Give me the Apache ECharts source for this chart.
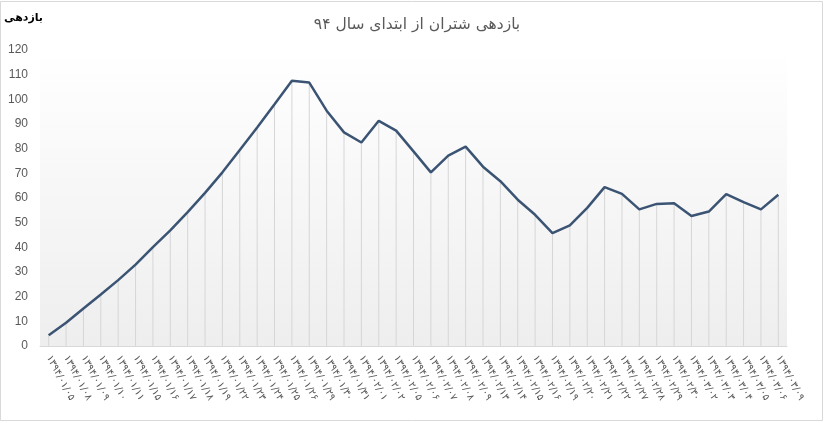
<!DOCTYPE html>
<html>
<head>
<meta charset="utf-8">
<script src="https://cdn.jsdelivr.net/npm/echarts@6/dist/echarts.min.js"></script>
<style>html,body{margin:0;padding:0;background:#fff}#c{width:824px;height:423px}</style>
</head>
<body>
<div id="c"></div>
<script>
var categories = [
  '۱۳۹۴/۰۱/۰۵','۱۳۹۴/۰۱/۰۸','۱۳۹۴/۰۱/۰۹','۱۳۹۴/۰۱/۱۰','۱۳۹۴/۰۱/۱۱','۱۳۹۴/۰۱/۱۵',
  '۱۳۹۴/۰۱/۱۶','۱۳۹۴/۰۱/۱۷','۱۳۹۴/۰۱/۱۸','۱۳۹۴/۰۱/۱۹','۱۳۹۴/۰۱/۲۲','۱۳۹۴/۰۱/۲۳',
  '۱۳۹۴/۰۱/۲۴','۱۳۹۴/۰۱/۲۵','۱۳۹۴/۰۱/۲۶','۱۳۹۴/۰۱/۲۹','۱۳۹۴/۰۱/۳۰','۱۳۹۴/۰۱/۳۱',
  '۱۳۹۴/۰۲/۰۱','۱۳۹۴/۰۲/۰۲','۱۳۹۴/۰۲/۰۵','۱۳۹۴/۰۲/۰۶','۱۳۹۴/۰۲/۰۷','۱۳۹۴/۰۲/۰۸',
  '۱۳۹۴/۰۲/۰۹','۱۳۹۴/۰۲/۱۳','۱۳۹۴/۰۲/۱۴','۱۳۹۴/۰۲/۱۵','۱۳۹۴/۰۲/۱۶','۱۳۹۴/۰۲/۱۹',
  '۱۳۹۴/۰۲/۲۰','۱۳۹۴/۰۲/۲۱','۱۳۹۴/۰۲/۲۲','۱۳۹۴/۰۲/۲۷','۱۳۹۴/۰۲/۲۸','۱۳۹۴/۰۲/۲۹',
  '۱۳۹۴/۰۲/۳۰','۱۳۹۴/۰۳/۰۲','۱۳۹۴/۰۳/۰۳','۱۳۹۴/۰۳/۰۴','۱۳۹۴/۰۳/۰۵','۱۳۹۴/۰۳/۰۶',
  '۱۳۹۴/۰۳/۰۹'
];
var returns = [
  4.4, 9.4, 15.2, 20.9, 26.7, 33.0, 40.1, 46.9, 54.3, 62.1, 70.4, 79.5, 88.6, 98.0,
  107.5, 106.8, 95.4, 86.6, 82.5, 91.3, 87.3, 78.9, 70.4, 77.2, 80.8, 72.7, 66.8,
  59.3, 53.2, 45.8, 48.9, 56.0, 64.4, 61.7, 55.4, 57.6, 57.9, 52.7, 54.5, 61.6,
  58.3, 55.4, 61.3
];
var yTicks = { min: 0, max: 120, step: 10 };
var titleText = 'بازدهی شتران از ابتدای سال ۹۴';
var yName = 'بازدهی';

var chart = echarts.init(document.getElementById('c'), null, { renderer: 'canvas' });
chart.setOption({
  animation: false,
  backgroundColor: '#ffffff',
  title: {
    text: titleText,
    left: 412, top: 12, textAlign: 'center',
    textStyle: { fontFamily: 'DejaVu Sans', fontSize: 15.5, fontWeight: 'normal', color: '#595959' }
  },
  graphic: [{
    type: 'rect', silent: true,
    shape: { x: 0.5, y: 1.5, width: 822, height: 419 },
    style: { fill: 'none', stroke: '#d9d9d9', lineWidth: 1 }
  }],
  grid: {
    left: 40, right: 37, top: 50, bottom: 77,
    show: true, borderWidth: 0,
    backgroundColor: new echarts.graphic.LinearGradient(0, 0, 0, 1, [
      { offset: 0, color: '#ffffff' },
      { offset: 1, color: '#eeeeee' }
    ])
  },
  xAxis: {
    type: 'category',
    data: categories,
    boundaryGap: true,
    axisLine: { lineStyle: { color: '#d9d9d9', width: 1 } },
    axisTick: { show: false },
    axisLabel: {
      interval: 0, rotate: -62, margin: 10,
      fontFamily: 'DejaVu Sans', fontSize: 10, color: '#595959'
    },
    splitLine: { show: false }
  },
  yAxis: {
    type: 'value',
    min: yTicks.min, max: yTicks.max, interval: yTicks.step,
    name: yName,
    nameLocation: 'end',
    nameGap: 26,
    nameTextStyle: { fontFamily: 'DejaVu Sans', fontSize: 11, fontWeight: 'bold', color: '#000', align: 'left', padding: [0, 0, 0, -36] },
    axisLine: { show: false },
    axisTick: { show: false },
    splitLine: { show: false },
    axisLabel: { margin: 12, fontFamily: 'Liberation Sans', fontSize: 12, color: '#595959' }
  },
  series: [
    {
      type: 'bar',
      data: returns,
      barWidth: 1,
      silent: true,
      z: 1,
      itemStyle: { color: '#d6d6d6' }
    },
    {
      type: 'line',
      data: returns,
      symbol: 'none',
      z: 3,
      lineStyle: { color: '#3b5474', width: 2.5 }
    }
  ]
});
</script>
</body>
</html>
